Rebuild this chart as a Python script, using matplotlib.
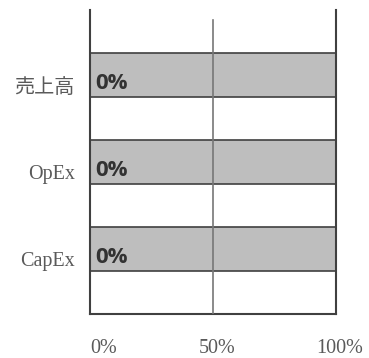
import matplotlib.pyplot as plt
import matplotlib.transforms as mtransforms

categories = ['売上高', 'OpEx', 'CapEx']
totals = [100, 100, 100]
shares = [0, 0, 0]
x_ticks = [0, 50, 100]
x_tick_labels = ['0%', '50%', '100%']

plt.rcParams['font.family'] = ['Liberation Serif', 'Noto Sans CJK JP', 'DejaVu Sans']

fig = plt.figure(figsize=(3.69, 3.58), dpi=100)
ax = fig.add_axes([90 / 369, 44 / 358, 246 / 369, 304 / 358])

pos = [i + 0.75 for i in range(len(categories))]
ax.barh(pos, totals, height=0.5, color='#bebebe', edgecolor='#404040', linewidth=1.2)

for p, s in zip(pos, shares):
    ax.text(2.2, p + 0.1, '%d%%' % s, ha='left', va='center',
            fontsize=16, fontweight='bold', color='#333333',
            family=['Open Sans', 'DejaVu Sans'])

ax.set_xlim(0, 100)
ax.set_ylim(3.5, 0)

# 50% line starts a bit below the top
ax.axvline(50, ymin=0, ymax=(314 - 20) / 304, color='#777777', linewidth=1.2, zorder=3)

for side in ['left', 'right', 'bottom']:
    ax.spines[side].set_color('#404040')
    ax.spines[side].set_linewidth(1.5)
ax.spines['top'].set_visible(False)

ax.set_yticks([p + 0.12 for p in pos])
ax.set_yticklabels(categories, fontsize=14.5, color='#5a5a5a')
ax.tick_params(axis='y', length=0, pad=11)

ax.set_xticks(x_ticks)
ax.set_xticklabels(x_tick_labels, fontsize=14.5, color='#5a5a5a')
ax.tick_params(axis='x', length=0, pad=18)
labels = ax.get_xticklabels()
labels[0].set_ha('left')
for lab in labels[1:]:
    lab.set_transform(lab.get_transform() + mtransforms.ScaledTranslation(4 / 100, 0, fig.dpi_scale_trans))

fig.savefig('out.png', dpi=100)
